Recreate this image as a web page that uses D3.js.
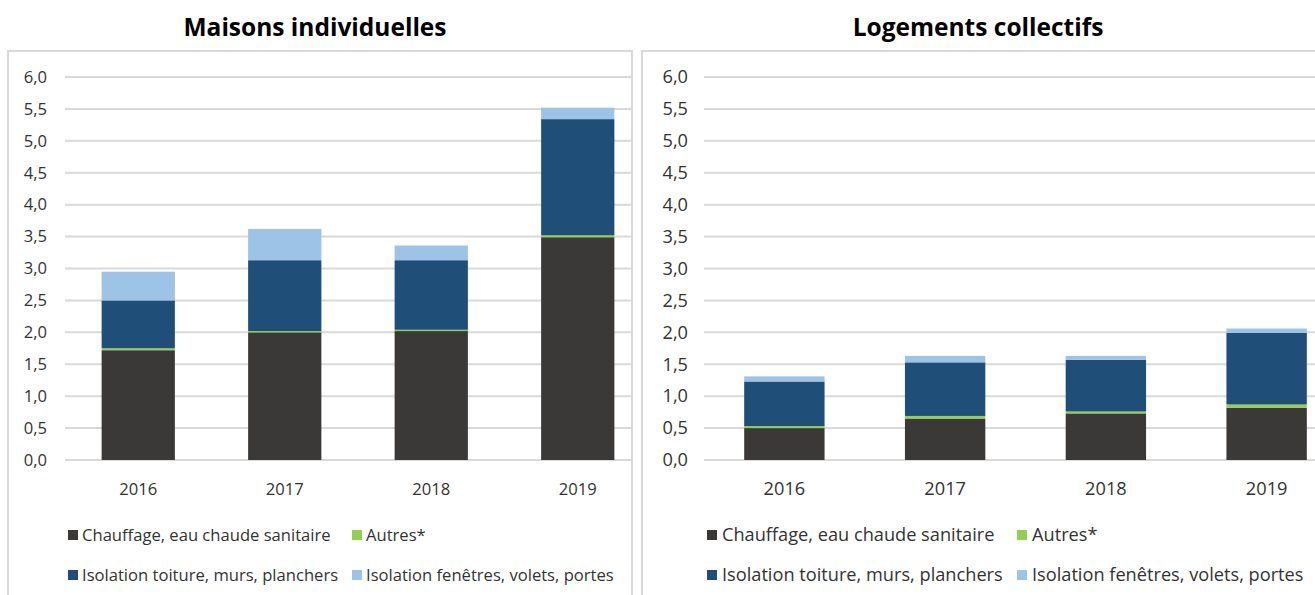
<!DOCTYPE html>
<html>
<head>
<meta charset="utf-8">
<script src="https://cdn.jsdelivr.net/npm/d3@7"></script>
<style>
  body { margin: 0; background: #fff; }
  svg { display: block; }
</style>
</head>
<body>
<svg id="chart" width="1315" height="595"></svg>
<script>
// categories and series
const years = ["2016", "2017", "2018", "2019"];
const seriesNames = ["Chauffage, eau chaude sanitaire", "Autres*",
                     "Isolation toiture, murs, planchers", "Isolation fenêtres, volets, portes"];
const seriesColors = ["#3a3937", "#92d050", "#1f4e79", "#9dc3e6"];
const yTicks = [0, 0.5, 1, 1.5, 2, 2.5, 3, 3.5, 4, 4.5, 5, 5.5, 6];

// Maisons individuelles
const maisonsChauffage = [1.72, 2.00, 2.02, 3.49];
const maisonsAutres    = [0.03, 0.02, 0.02, 0.03];
const maisonsToiture   = [0.75, 1.11, 1.09, 1.82];
const maisonsFenetres  = [0.45, 0.49, 0.23, 0.18];

// Logements collectifs
const collectifsChauffage = [0.50, 0.65, 0.73, 0.82];
const collectifsAutres    = [0.03, 0.04, 0.03, 0.05];
const collectifsToiture   = [0.70, 0.84, 0.81, 1.12];
const collectifsFenetres  = [0.08, 0.10, 0.06, 0.07];

const svg = d3.select("#chart");
const fmt = d => d3.format(".1f")(d).replace(".", ",");
const fontFam = "'Open Sans', sans-serif";

function drawPanel(p) {
    // panel frame
    svg.append("rect")
        .attr("x", p.boxLeft).attr("y", 51)
        .attr("width", p.boxRight - p.boxLeft).attr("height", 600)
        .attr("fill", "none").attr("stroke", "#d9d9d9").attr("stroke-width", 2);

    svg.append("text")
        .attr("x", p.titleX).attr("y", 36)
        .attr("text-anchor", "middle")
        .style("font-family", fontFam).style("font-weight", 700)
        .style("font-size", "24.5px").attr("fill", "#000")
        .text(p.title);

    const y = d3.scaleLinear().domain([0, 6]).range([460, 77]);
    const x = d3.scaleBand().domain(years).range(p.bandRange).paddingInner(0.5).paddingOuter(0.25);

    // gridlines
    svg.append("g").selectAll("line").data(yTicks).join("line")
        .attr("x1", p.gridStart).attr("x2", p.gridEnd)
        .attr("y1", d => y(d)).attr("y2", d => y(d))
        .attr("stroke", "#d9d9d9").attr("stroke-width", 2);

    // y labels
    const yAxis = d3.axisLeft(y).tickValues(yTicks).tickFormat(fmt).tickSize(0).tickPadding(0);
    const gy = svg.append("g").attr("transform", "translate(" + p.yLabelX + ",0)").call(yAxis);
    gy.select(".domain").remove();
    gy.selectAll("text").style("font-family", fontFam).style("font-size", p.font + "px").attr("fill", "#333");

    // stacked bars
    const rows = years.map((yr, i) => ({
        year: yr, s0: p.values[0][i], s1: p.values[1][i], s2: p.values[2][i], s3: p.values[3][i]
    }));
    const stacked = d3.stack().keys(["s0", "s1", "s2", "s3"])(rows);
    svg.append("g").selectAll("g").data(stacked).join("g")
        .attr("fill", (d, i) => seriesColors[i])
        .selectAll("rect").data(d => d).join("rect")
        .attr("x", d => x(d.data.year))
        .attr("width", x.bandwidth())
        .attr("y", d => y(d[1]))
        .attr("height", d => y(d[0]) - y(d[1]));

    // x labels
    const xAxis = d3.axisBottom(x).tickSize(0).tickPadding(0);
    const gx = svg.append("g").attr("transform", "translate(0,495)").call(xAxis);
    gx.select(".domain").remove();
    gx.selectAll("text").attr("dy", 0).style("font-family", fontFam)
        .style("font-size", p.font + "px").attr("fill", "#333");

    // legend
    const leg = [
        {i: 0, x: p.legX[0], y: 535}, {i: 1, x: p.legX[1], y: 535},
        {i: 2, x: p.legX[0], y: 575}, {i: 3, x: p.legX[1], y: 575}
    ];
    const lg = svg.append("g").selectAll("g").data(leg).join("g")
        .attr("transform", d => "translate(" + d.x + "," + d.y + ")");
    lg.append("rect").attr("x", 0).attr("y", -5).attr("width", 10).attr("height", 10)
        .attr("fill", d => seriesColors[d.i]);
    lg.append("text").attr("x", p.legGap).attr("y", 0).attr("dy", "0.35em")
        .style("font-family", fontFam).style("font-size", p.font + "px").attr("fill", "#333")
        .text(d => seriesNames[d.i]);
}

drawPanel({
    title: "Maisons individuelles", titleX: 315,
    boxLeft: 8, boxRight: 632,
    bandRange: [65, 651], gridStart: 65, gridEnd: 632,
    yLabelX: 47, font: 16.6, legX: [68, 352], legGap: 14,
    values: [maisonsChauffage, maisonsAutres, maisonsToiture, maisonsFenetres]
});

drawPanel({
    title: "Logements collectifs", titleX: 978,
    boxLeft: 642, boxRight: 1330,
    bandRange: [704, 1347], gridStart: 704, gridEnd: 1330,
    yLabelX: 688, font: 18.2, legX: [707, 1017], legGap: 15,
    values: [collectifsChauffage, collectifsAutres, collectifsToiture, collectifsFenetres]
});
</script>
</body>
</html>
